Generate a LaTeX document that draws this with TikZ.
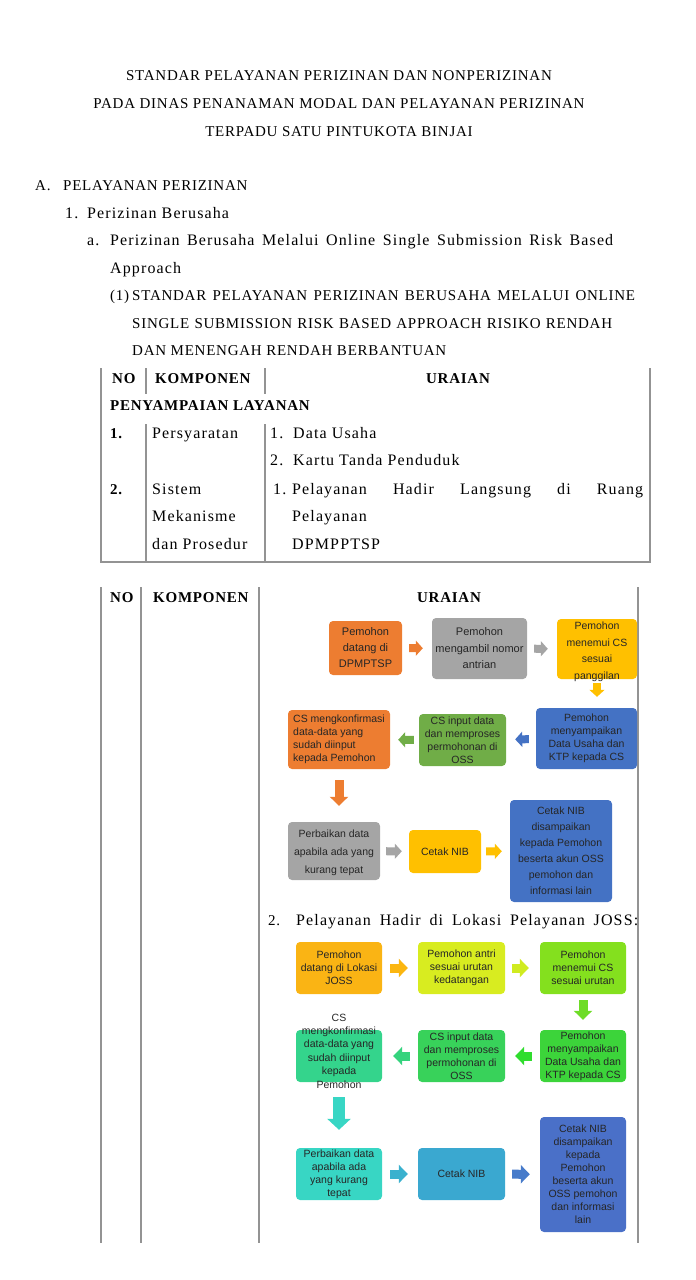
\documentclass[tikz,border=0pt]{standalone}
\usepackage{fontspec}
\setmainfont{Liberation Serif}[LetterSpace=5]
\newfontfamily\wide{Liberation Serif}[LetterSpace=7]
\newfontfamily\boxfont{Liberation Sans}
\usetikzlibrary{arrows.meta}
\definecolor{rule}{HTML}{939393}
\definecolor{orng}{HTML}{ED7D31}
\definecolor{gry}{HTML}{A5A5A5}
\definecolor{gold}{HTML}{FFC000}
\definecolor{leaf}{HTML}{70AD47}
\definecolor{navy}{HTML}{4472C4}
\definecolor{amber}{HTML}{FAB414}
\definecolor{lime}{HTML}{D8EC20}
\definecolor{grass}{HTML}{84E01E}
\definecolor{kelly}{HTML}{3CD43A}
\definecolor{emer}{HTML}{38D25A}
\definecolor{sea}{HTML}{34D48C}
\definecolor{turq}{HTML}{38D6C4}
\definecolor{cyanb}{HTML}{3AA8D0}
\definecolor{royal}{HTML}{4A70C8}
\newcommand{\doc}{\fontsize{15}{18}\selectfont}
\newcommand{\lowdoc}{\wide\fontsize{16}{18}\selectfont}

\begin{document}
\begin{tikzpicture}[x=1pt,y=-1pt,
  txt/.style={anchor=base west,inner sep=0pt,font=\doc},
  low/.style={anchor=base west,inner sep=0pt,font=\lowdoc},
  hd/.style={anchor=base,inner sep=0pt,font=\doc},
  bx/.style={rounded corners=4pt,inner sep=0.5pt,align=center,text=black!85,
    font=\boxfont\fontsize{10.5}{13}\selectfont},
  bt/.style={inner sep=0pt,align=center,text=black!85,font=\boxfont\fontsize{10.5}{13.4}\selectfont},
  fl/.style={line width=8pt,-{Triangle[length=7pt,width=15pt]},shorten <=7pt,shorten >=9pt},
  fm/.style={line width=9pt,-{Triangle[length=9pt,width=18pt]},shorten <=8pt,shorten >=10pt},
  tbl/.style={rule,line width=1.1pt}]
\useasboundingbox (0,0) rectangle (696,1280);

\node[hd] (t1) at (339,80) {STANDAR PELAYANAN PERIZINAN DAN NONPERIZINAN};
\node[hd] (t2) at (339,108) {PADA DINAS PENANAMAN MODAL DAN PELAYANAN PERIZINAN};
\node[hd] (t3) at (339,136) {TERPADU SATU PINTUKOTA BINJAI};

\node[txt] (sA) at (35,190) {A.};
\node[txt] at (63,190) {PELAYANAN PERIZINAN};
\node[low] (s1) at (65,218) {1.};
\node[low] at (87,218) {Perizinan Berusaha};
\node[low] (sa) at (87,245) {a.};
\node[low] at (110,245) {\makebox[503pt][s]{Perizinan Berusaha Melalui Online Single Submission Risk Based}};
\node[low] at (110,273) {Approach};
\node[txt] (s11) at (110,300) {(1)};
\node[txt] at (132,300) {\makebox[503pt][s]{STANDAR PELAYANAN PERIZINAN BERUSAHA MELALUI ONLINE}};
\node[txt] at (132,328) {\makebox[480pt][s]{SINGLE SUBMISSION RISK BASED APPROACH RISIKO RENDAH}};
\node[txt] at (132,355) {DAN MENENGAH RENDAH BERBANTUAN};

% tabel persyaratan
\draw[tbl] (101,368) -- (101,562) -- (650,562) -- (650,368);
\draw[tbl] (146,368) -- (146,394) (146,424) -- (146,562);
\draw[tbl] (265,368) -- (265,394) (265,424) -- (265,562);
\node[txt,font=\doc\bfseries] at (112,383) {NO};
\node[txt,font=\doc\bfseries] at (155,383) {KOMPONEN};
\node[hd,font=\doc\bfseries] at (458,383) {URAIAN};
\node[txt,font=\doc\bfseries] at (110,410) {PENYAMPAIAN LAYANAN};
\node[txt,font=\doc\bfseries] at (110,438) {1.};
\node[low] at (152,438) {Persyaratan};
\node[low] at (270,438) {1.};
\node[low] at (293,438) {Data Usaha};
\node[low] at (270,465) {2.};
\node[low] at (293,465) {Kartu Tanda Penduduk};
\node[txt,font=\doc\bfseries] at (110,494) {2.};
\node[low] at (152,494) {Sistem};
\node[low] at (152,521) {Mekanisme};
\node[low] at (152,549) {dan Prosedur};
\node[low] at (273,494) {1.};
\node[low] at (292,494) {\makebox[351pt][s]{Pelayanan Hadir Langsung di Ruang}};
\node[low] at (292,521) {Pelayanan};
\node[low] at (292,549) {DPMPPTSP};

% tabel mekanisme
\draw[tbl] (101,587) -- (101,1243) (141,587) -- (141,1243) (259,587) -- (259,1243) (638,587) -- (638,1243);
\node[txt,font=\doc\bfseries] at (110,602) {NO};
\node[txt,font=\doc\bfseries] at (153,602) {KOMPONEN};
\node[hd,font=\doc\bfseries] at (449,602) {URAIAN};

\node[bx,fill=orng,minimum width=73pt,minimum height=54pt,font=\boxfont\fontsize{11}{16}\selectfont] (a1) at (365.5,648) {Pemohon\\datang di\\DPMPTSP};
\node[bx,fill=gry,minimum width=95pt,minimum height=61pt,font=\boxfont\fontsize{11}{16.5}\selectfont] (a2) at (479.5,648.5) {Pemohon\\mengambil nomor\\antrian};
\node[bx,fill=gold,minimum width=80pt,minimum height=60pt,
  label={[bt,font=\boxfont\fontsize{10.5}{16.5}\selectfont,yshift=-3pt]center:{Pemohon\\menemui CS\\sesuai\\panggilan}}] (a3) at (597,649) {};
\node[bx,fill=navy,minimum width=101pt,minimum height=61pt] (b3) at (586.5,738.5) {Pemohon\\menyampaikan\\Data Usaha dan\\KTP kepada CS};
\node[bx,fill=leaf,minimum width=87pt,minimum height=52pt] (b2) at (462.5,740) {CS input data\\dan memproses\\permohonan di\\OSS};
\node[bx,fill=orng,minimum width=102pt,minimum height=59pt,align=left] (b1) at (339,739.5) {CS mengkonfirmasi\\data-data yang\\sudah diinput\\kepada Pemohon};
\node[bx,fill=gry,minimum width=92pt,minimum height=58pt,
  label={[bt,font=\boxfont\fontsize{10.5}{18}\selectfont,yshift=-2pt]center:{Perbaikan data\\apabila ada yang\\kurang tepat}}] (c1) at (334,851) {};
\node[bx,fill=gold,minimum width=72pt,minimum height=43pt] (c2) at (445,851.5) {Cetak NIB};
\node[bx,fill=navy,minimum width=102pt,minimum height=102pt,font=\boxfont\fontsize{10.5}{16}\selectfont] (c3) at (561,851) {Cetak NIB\\disampaikan\\kepada Pemohon\\beserta akun OSS\\pemohon dan\\informasi lain};

\draw[fl,orng] (a1) -- (a2);
\draw[fl,gry] (a2) -- (a3);
\draw[fl,gold,shorten <=4pt,shorten >=11pt] (a3.south) -- (a3.south |- b3.north);
\draw[fl,navy] (b3) -- (b2);
\draw[fl,leaf,shorten <=5pt,shorten >=8pt] (b2) -- (b1);
\draw[fm,orng,shorten <=11pt,shorten >=16pt] (b1.south) -- (b1.south |- c1.north);
\draw[fl,gry,shorten <=6pt,shorten >=7pt] (c1) -- (c2);
\draw[fl,gold,shorten <=5pt,shorten >=8pt] (c2) -- (c3);

\node[txt] (s2) at (268,925) {2.};
\node[low] at (296,925) {\makebox[342pt][s]{Pelayanan Hadir di Lokasi Pelayanan JOSS:}};

\node[bx,fill=amber,minimum width=86pt,minimum height=52pt] (d1) at (339,968) {Pemohon\\datang di Lokasi\\JOSS};
\node[bx,fill=lime,minimum width=87pt,minimum height=52pt] (d2) at (461.5,968) {Pemohon antri\\sesuai urutan\\kedatangan};
\node[bx,fill=grass,minimum width=86pt,minimum height=52pt] (d3) at (583,968) {Pemohon\\menemui CS\\sesuai urutan};
\node[bx,fill=kelly,minimum width=86pt,minimum height=52pt] (e3) at (583,1056) {Pemohon\\menyampaikan\\Data Usaha dan\\KTP kepada CS};
\node[bx,fill=emer,minimum width=87pt,minimum height=52pt] (e2) at (461.5,1056) {CS input data\\dan memproses\\permohonan di\\OSS};
\node[bx,fill=sea,minimum width=86pt,minimum height=52pt,
  label={[bt,yshift=5pt]center:{CS\\mengkonfirmasi\\data-data yang\\sudah diinput\\kepada\\Pemohon}}] (e1) at (339,1056) {};
\node[bx,fill=turq,minimum width=86pt,minimum height=52pt] (f1) at (339,1174) {Perbaikan data\\apabila ada\\yang kurang\\tepat};
\node[bx,fill=cyanb,minimum width=87pt,minimum height=52pt] (f2) at (461.5,1174) {Cetak NIB};
\node[bx,fill=royal,minimum width=86pt,minimum height=115pt] (f3) at (583,1174.5) {Cetak NIB\\disampaikan\\kepada\\Pemohon\\beserta akun\\OSS pemohon\\dan informasi\\lain};

\draw[fm,amber!80!gold] (d1) -- (d2);
\draw[fm,lime!90!grass,shorten <=7pt,shorten >=11pt] (d2) -- (d3);
\draw[fm,grass!70!kelly,shorten <=6pt,shorten >=10pt] (d3.south) -- (d3.south |- e3.north);
\draw[fm,kelly!80!green,shorten >=10pt] (e3) -- (e2);
\draw[fm,sea!70!emer,shorten >=11pt] (e2) -- (e1);
\draw[fm,line width=12pt,-{Triangle[length=11pt,width=23pt]},turq,shorten <=15pt,shorten >=18pt] (e1.south) -- (e1.south |- f1.north);
\draw[fm,cyanb!80!turq] (f1) -- (f2);
\draw[fm,royal!80!cyanb,shorten <=7pt,shorten >=10pt] (f2) -- (f3);
\end{tikzpicture}
\end{document}
